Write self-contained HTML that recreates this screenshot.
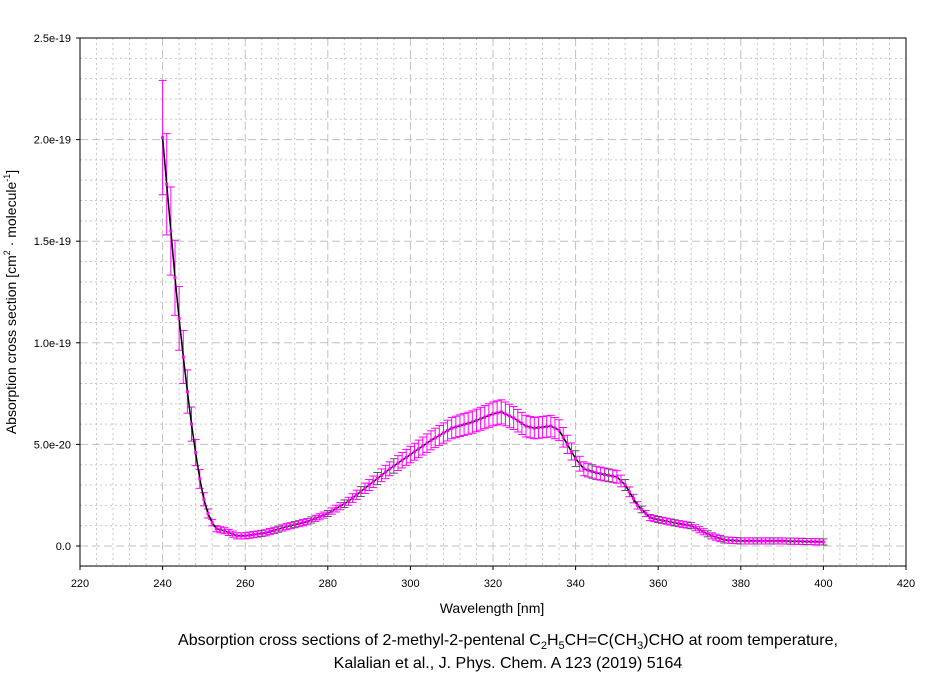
<!DOCTYPE html>
<html><head><meta charset="utf-8"><style>
body{margin:0;background:#fff;}
svg{display:block;font-family:"Liberation Sans",Arial,sans-serif;}
</style></head><body>
<svg id="s" width="944" height="673" xmlns="http://www.w3.org/2000/svg">
<g id="grid"></g>
<rect x="80" y="38" width="826" height="528" fill="none" stroke="#000" stroke-width="1"/>
<g id="ticks" font-size="11" fill="#000"></g>
<g id="data"></g>
<text x="492" y="613" font-size="14" text-anchor="middle">Wavelength [nm]</text>
<text transform="translate(16,302) rotate(-90)" font-size="14" text-anchor="middle">Absorption cross section [cm<tspan font-size="9" dy="-6">2</tspan><tspan dy="6"> · molecule</tspan><tspan font-size="9" dy="-6">-1</tspan><tspan dy="6">]</tspan></text>
<text x="508" y="645" font-size="16" text-anchor="middle">Absorption cross sections of 2-methyl-2-pentenal C<tspan font-size="11" dy="4">2</tspan><tspan dy="-4">H</tspan><tspan font-size="11" dy="4">5</tspan><tspan dy="-4">CH=C(CH</tspan><tspan font-size="11" dy="4">3</tspan><tspan dy="-4">)CHO at room temperature,</tspan></text>
<text x="508" y="668" font-size="16" text-anchor="middle">Kalalian et al., J. Phys. Chem. A 123 (2019) 5164</text>
</svg>
<script>
const NS="http://www.w3.org/2000/svg";
function X(nm){return 80+(nm-220)*4.13;}
function Y(v){return 546-v*20.32;}
function el(p,t,a){const e=document.createElementNS(NS,t);for(const k in a)e.setAttribute(k,a[k]);p.appendChild(e);return e;}
const g=document.getElementById('grid'),tk=document.getElementById('ticks'),d=document.getElementById('data');
for(let nm=224;nm<420;nm+=4){const maj=(nm-220)%20==0;el(g,'line',{x1:X(nm),x2:X(nm),y1:38,y2:566,stroke:maj?'#c0c0c0':'#c8c8c8','stroke-width':1,'stroke-dasharray':maj?'8,4':'2,3'});}
for(let v=-1;v<25;v+=1){const maj=v%5==0;const y=Y(v);if(y<39)continue;el(g,'line',{x1:80,x2:906,y1:y,y2:y,stroke:maj?'#c0c0c0':'#c8c8c8','stroke-width':1,'stroke-dasharray':maj?'8,4':'2,3'});}
for(let nm=220;nm<=420;nm+=20){el(tk,'line',{x1:X(nm),x2:X(nm),y1:566,y2:570,stroke:'#000'});const t=el(tk,'text',{x:X(nm),y:587,'text-anchor':'middle'});t.textContent=nm;}
const yl=["0.0","5.0e-20","1.0e-19","1.5e-19","2.0e-19","2.5e-19"];
yl.forEach((s,i)=>{const y=Y(i*5);el(tk,'line',{x1:76,x2:80,y1:y,y2:y,stroke:'#000'});const t=el(tk,'text',{x:71,y:y+4,'text-anchor':'end'});t.textContent=s;});
const K=[[240,20.1],[241,17.8],[242,15.5],[243,13.2],[244,11.2],[245,9.3],[246,7.6],[247,6.0],[248,4.6],[249,3.3],[250,2.3],[251,1.6],[252,1.15],[253,0.85],[255,0.75],[258,0.5],[260,0.5],[265,0.65],[270,0.95],[275,1.2],[280,1.6],[285,2.2],[290,3.0],[295,3.8],[300,4.5],[305,5.2],[310,5.8],[315,6.1],[320,6.5],[322,6.6],[325,6.3],[328,5.9],[330,5.8],[334,5.9],[336,5.7],[338,5.0],[340,4.3],[342,3.8],[345,3.6],[350,3.4],[352,3.0],[355,2.0],[358,1.4],[360,1.3],[365,1.1],[368,1.0],[370,0.8],[373,0.5],[376,0.3],[380,0.25],[390,0.25],[400,0.2]];
function f(nm){for(let i=0;i<K.length-1;i++){if(nm>=K[i][0]&&nm<=K[i+1][0]){const t=(nm-K[i][0])/(K[i+1][0]-K[i][0]);return K[i][1]+t*(K[i+1][1]-K[i][1]);}}return K[K.length-1][1];}
let pts=[];
for(let nm=240;nm<=400;nm++){const v=f(nm);pts.push(X(nm).toFixed(1)+','+Y(v).toFixed(1));
 const e=nm<253?v*0.14:Math.max(0.15,v*0.09);const col=(nm%4==0&&nm>262&&(nm<300||nm>336))?'#555':'#ff00ff';
 const x=X(nm),y1=Y(v+e),y2=Y(v-e);
 el(d,'line',{x1:x,x2:x,y1:y1,y2:y2,stroke:col,'stroke-width':1});
 el(d,'line',{x1:x-4,x2:x+4,y1:y1,y2:y1,stroke:col,'stroke-width':1});
 el(d,'line',{x1:x-4,x2:x+4,y1:y2,y2:y2,stroke:col,'stroke-width':1});}
el(d,'polyline',{points:pts.join(' '),fill:'none',stroke:'#000','stroke-width':1.5});
for(let nm=240;nm<=400;nm++){el(d,'rect',{x:X(nm)-1.5,y:Y(f(nm))-1.5,width:3,height:3,fill:'#ff00ff'});}
</script>
</body></html>
